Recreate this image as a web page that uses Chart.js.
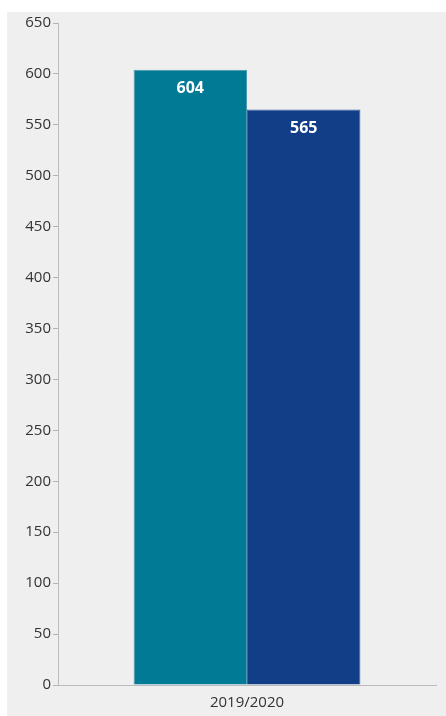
<!DOCTYPE html>
<html>
<head>
<meta charset="utf-8">
<script src="https://cdn.jsdelivr.net/npm/chart.js@4/dist/chart.umd.min.js"></script>
<style>
  body { margin: 0; background: #fff; }
  #wrap { position: absolute; left: 7px; top: 12px; width: 439px; height: 704px; background: #efefef; }
</style>
</head>
<body>
<div id="wrap"><canvas id="chart" width="439" height="704"></canvas></div>
<script>
// datos del gráfico
const categories = ['2019/2020'];
const serieA = [604];
const serieB = [565];
const yTicks = [0, 50, 100, 150, 200, 250, 300, 350, 400, 450, 500, 550, 600, 650];

// etiquetas blancas dentro de cada barra
const barLabels = {
  id: 'barLabels',
  afterDatasetsDraw(chart) {
    const ctx = chart.ctx;
    ctx.save();
    ctx.fillStyle = '#ffffff';
    ctx.font = 'bold 16px "Open Sans", sans-serif';
    ctx.textAlign = 'center';
    ctx.textBaseline = 'middle';
    chart.data.datasets.forEach((ds, i) => {
      chart.getDatasetMeta(i).data.forEach((bar, j) => {
        ctx.fillText(ds.data[j], bar.x, bar.y + 19);
      });
    });
    ctx.restore();
  }
};

new Chart(document.getElementById('chart'), {
  type: 'bar',
  data: {
    labels: categories,
    datasets: [
      { label: 'A', data: serieA, backgroundColor: '#017a96', borderColor: '#4f9cb0', borderWidth: 1, borderSkipped: 'bottom' },
      { label: 'B', data: serieB, backgroundColor: '#123e87', borderColor: '#3d62a0', borderWidth: 1, borderSkipped: 'bottom' }
    ]
  },
  options: {
    responsive: false,
    animation: false,
    layout: { padding: { top: 2, right: 10, left: 0, bottom: 0 } },
    categoryPercentage: 0.6,
    barPercentage: 1.0,
    plugins: { legend: { display: false }, tooltip: { enabled: false } },
    scales: {
      x: {
        grid: { display: false, drawTicks: true, tickLength: 5, color: '#b0b4b8' },
        border: { color: '#b8bcc0' },
        ticks: { color: '#333', font: { family: '"Open Sans", sans-serif', size: 15 }, padding: 4 }
      },
      y: {
        min: 0,
        max: 650,
        afterBuildTicks(scale) { scale.ticks = yTicks.map(v => ({ value: v })); },
        afterFit(scale) { scale.width = 51; },
        grid: { drawOnChartArea: false, tickLength: 5, color: '#b0b4b8' },
        border: { color: '#b8bcc0' },
        ticks: { color: '#333', font: { family: '"Open Sans", sans-serif', size: 15 }, padding: 2 }
      }
    }
  },
  plugins: [barLabels]
});
</script>
</body>
</html>
